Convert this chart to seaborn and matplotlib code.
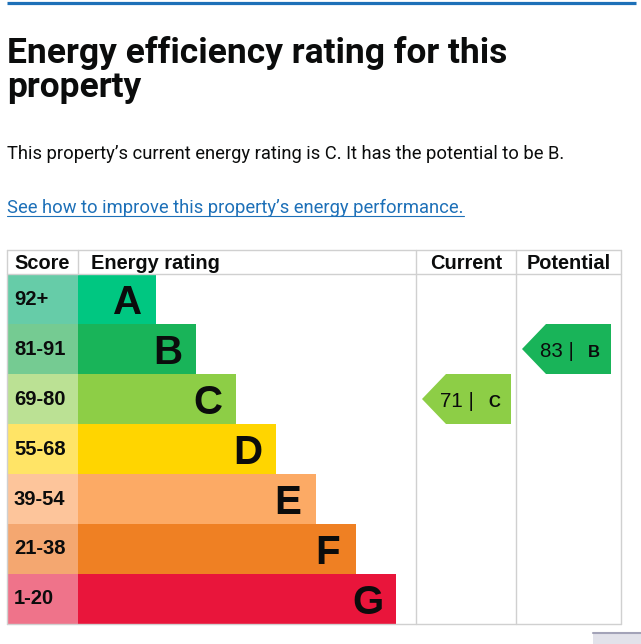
import matplotlib
matplotlib.use("Agg")
import matplotlib.pyplot as plt
import seaborn as sns
from matplotlib.patches import Polygon, Rectangle

# chart content
bands = ["A", "B", "C", "D", "E", "F", "G"]
score_ranges = ["92+", "81-91", "69-80", "55-68", "39-54", "21-38", "1-20"]
band_colors = ["#00c781", "#19b459", "#8dce46", "#ffd500", "#fcaa65", "#ef8023", "#e9153b"]
score_colors = ["#66cca8", "#75cb92", "#bbe194", "#ffe466", "#fdc59b", "#f4a770", "#ef738a"]
headers = ["Score", "Energy rating", "Current", "Potential"]
current_score, current_band = 71, "C"
potential_score, potential_band = 83, "B"
title_lines = ["Energy efficiency rating for this", "property"]
summary = "This property\u2019s current energy rating is C. It has the potential to be B."
link_text = "See how to improve this property\u2019s energy performance."

sns.set_style("white")

W, H = 641, 644
fig = plt.figure(figsize=(W / 100, H / 100), dpi=100)
ax = fig.add_axes([0, 0, 1, 1])

# table geometry in pixels (x measured from table left edge)
L = 7
right, top, head_bot, row_h = 620.5 - L, 250, 274, 50
col_score, col_cur, col_pot = 78 - L, 416 - L, 516 - L
centers = [head_bot + row_h * (i + 0.5) for i in range(len(bands))]
lengths = [col_score + 78 + 40 * i for i in range(len(bands))]

# rating bands (from table edge), then score cells over them
sns.barplot(x=lengths, y=centers, hue=bands, palette=band_colors, orient="y",
            native_scale=True, width=1, dodge=False, legend=False,
            saturation=1, linewidth=0, ax=ax)
sns.barplot(x=[col_score] * len(bands), y=centers, hue=score_ranges, palette=score_colors,
            orient="y", native_scale=True, width=1, dodge=False, legend=False,
            saturation=1, linewidth=0, ax=ax)

bold = dict(family=["Liberation Sans", "DejaVu Sans"], weight="bold", color="#0b0c0c")
for i, c in enumerate(centers):
    ax.text(14 - L, c + 5.5, score_ranges[i], fontsize=14.5, va="baseline", ha="left", **bold)
    ax.text(lengths[i] - 28.5, c + 14.5, bands[i], fontsize=29, va="baseline", ha="center",
            **bold)

# table lines
lc, lw = "#d0d0d0", 1.0
ax.plot([-0.5, right], [249.5, 249.5], color=lc, lw=lw)
ax.plot([-0.5, right], [273.5, 273.5], color=lc, lw=lw)
ax.plot([-0.5, right], [624, 624], color=lc, lw=lw)
ax.plot([-0.5, -0.5], [249.5, 624], color=lc, lw=lw)
ax.plot([right, right], [249.5, 624], color=lc, lw=lw)
ax.plot([col_score, col_score], [249.5, 274], color=lc, lw=lw)
for xc in (col_cur, col_pot):
    ax.plot([xc, xc], [249.5, 624], color=lc, lw=lw)

# header text
ax.text(14 - L, 269, headers[0], fontsize=14.4, va="baseline", ha="left", **bold)
ax.text(91 - L, 269, headers[1], fontsize=14.4, va="baseline", ha="left", **bold)
ax.text((col_cur + col_pot) / 2, 269, headers[2], fontsize=14.4, va="baseline", ha="center", **bold)
ax.text((col_pot + right) / 2, 269, headers[3], fontsize=14.4, va="baseline", ha="center", **bold)


def arrow(col_left, score, band):
    i = bands.index(band)
    y0, y1 = head_bot + row_h * i, head_bot + row_h * (i + 1)
    tip = col_left + 6
    pts = [(tip, (y0 + y1) / 2), (tip + 24, y0), (tip + 89, y0),
           (tip + 89, y1), (tip + 24, y1)]
    ax.add_patch(Polygon(pts, closed=True, facecolor=band_colors[i], edgecolor="none"))
    yb = (y0 + y1) / 2 + 7.5
    ax.text(tip + 18, yb, f"{score} |", fontsize=14.8, va="baseline", ha="left",
            family=["Liberation Sans", "DejaVu Sans"], color="#0b0c0c")
    ax.text(tip + 66, yb, band, fontsize=12, va="baseline", ha="left", **bold)


arrow(col_cur, current_score, current_band)
arrow(col_pot, potential_score, potential_band)

# page furniture
ax.plot([0, 636 - L], [2.5, 2.5], color="#1d70b8", lw=2.3, solid_capstyle="butt")
ax.add_patch(Rectangle((593 - L, 632), 60, 14, facecolor="#e2e2ea", edgecolor="none"))
ax.plot([593 - L, W], [632.5, 632.5], color="#a3a3b8", lw=1.5)

head_font = ["Roboto", "DejaVu Sans"]
t1 = ax.text(0, 63, title_lines[0], fontsize=25, weight="bold", family=head_font,
             color="#0b0c0c", va="baseline", ha="left")
t2 = ax.text(0, 97, title_lines[1], fontsize=25, weight="bold", family=head_font,
             color="#0b0c0c", va="baseline", ha="left")
t3 = ax.text(0, 159, summary, fontsize=13, family=head_font, color="#0b0c0c",
             va="baseline", ha="left")
t4 = ax.text(0, 213, link_text, fontsize=13, family=head_font, color="#1d70b8",
             va="baseline", ha="left")

ax.set_xlim(-L, W - L)
ax.set_ylim(H, 0)
ax.axis("off")

# fit text widths to the reference
fig.canvas.draw()
r = fig.canvas.get_renderer()
for t, target in ((t1, 501), (t3, 558), (t4, 454)):
    w = t.get_window_extent(r).width
    t.set_fontsize(t.get_fontsize() * target / w)
t2.set_fontsize(t1.get_fontsize())
fig.canvas.draw()
bb = t4.get_window_extent(r)
ax.plot([0, bb.width], [216, 216], color="#1d70b8", lw=0.8)

fig.savefig("out.png", dpi=100, facecolor="white")
